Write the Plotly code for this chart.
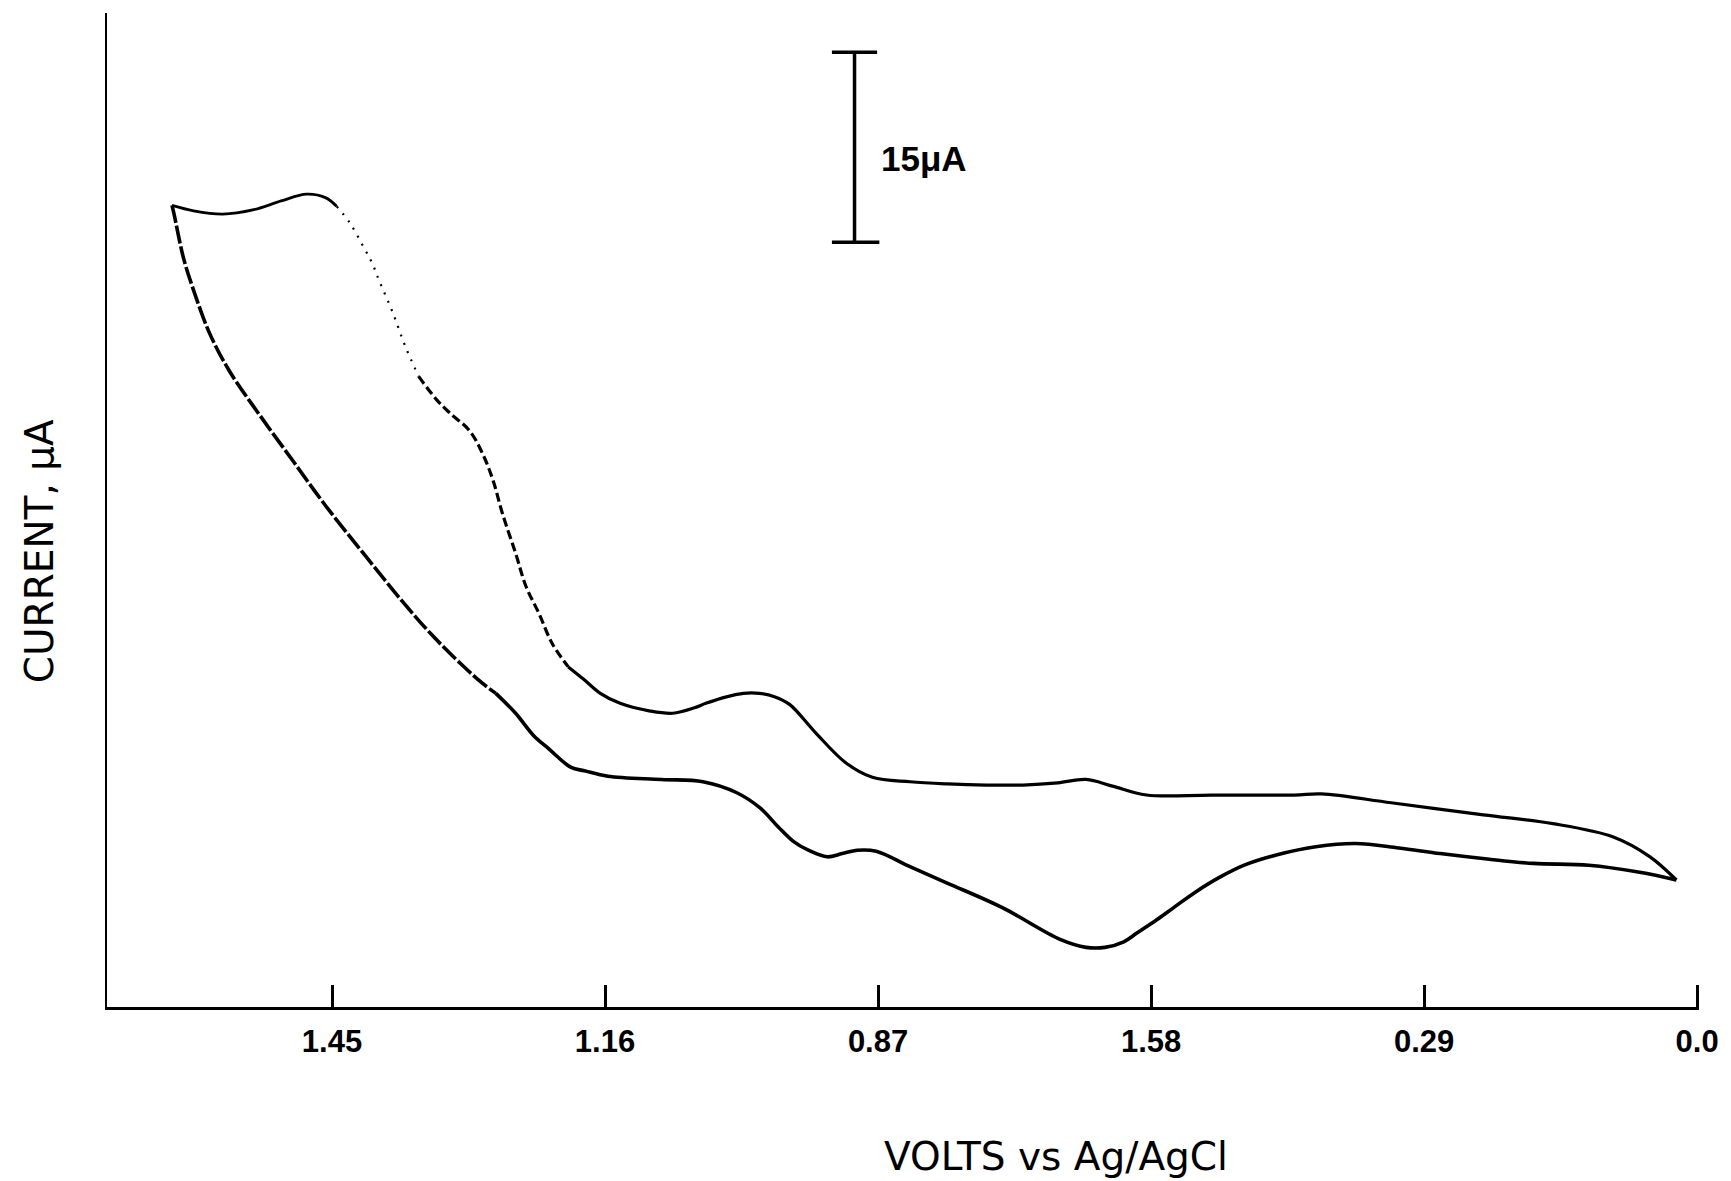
import plotly.graph_objects as go

# Cyclic voltammogram (volts vs Ag/AgCl, current in µA above the x-axis line)
upper_volts = [1.620, 1.597, 1.566, 1.533, 1.504, 1.477, 1.457, 1.445, 1.431, 1.417,
               1.407, 1.400, 1.386, 1.372, 1.358, 1.339, 1.325, 1.304, 1.290, 1.279,
               1.269, 1.255, 1.244, 1.230, 1.216, 1.199, 1.183, 1.165, 1.144, 1.112,
               1.088, 1.065, 1.053, 1.030, 1.013, 0.996, 0.980, 0.964, 0.936, 0.904,
               0.876, 0.836, 0.796, 0.755, 0.716, 0.679, 0.649, 0.621, 0.585, 0.516,
               0.428, 0.399, 0.325, 0.227, 0.153, 0.089, 0.050, 0.022]
upper_current = [63.31, 62.88, 62.62, 62.97, 63.66, 64.19, 63.92, 63.23, 61.92, 60.09,
                 58.69, 57.38, 54.94, 52.15, 49.80, 47.97, 46.92, 45.52, 43.69, 41.60,
                 38.98, 35.84, 33.23, 31.05, 28.69, 26.86, 25.90, 24.77, 23.98, 23.37,
                 23.20, 23.63, 23.98, 24.51, 24.77, 24.77, 24.51, 23.90, 21.63, 19.27,
                 18.14, 17.79, 17.62, 17.53, 17.53, 17.70, 17.97, 17.44, 16.74, 16.74,
                 16.74, 16.83, 16.13, 15.17, 14.48, 13.43, 11.86, 10.03]

lower_volts = [1.620, 1.618, 1.608, 1.597, 1.580, 1.559, 1.526, 1.491, 1.456, 1.414,
               1.375, 1.344, 1.311, 1.290, 1.276, 1.255, 1.236, 1.220, 1.196, 1.182,
               1.157, 1.100, 1.056, 1.020, 0.995, 0.976, 0.960, 0.944, 0.924, 0.908,
               0.892, 0.872, 0.836, 0.796, 0.738, 0.676, 0.649, 0.629, 0.609, 0.595,
               0.574, 0.556, 0.533, 0.506, 0.481, 0.447, 0.405, 0.363, 0.317, 0.273,
               0.223, 0.174, 0.115, 0.061, 0.022]
lower_current = [63.31, 62.70, 59.22, 56.60, 53.20, 50.23, 46.66, 43.08, 39.51, 35.58,
                 32.01, 29.39, 26.95, 25.55, 24.77, 23.20, 21.45, 20.41, 18.92, 18.66,
                 18.23, 17.97, 17.79, 16.92, 15.70, 14.22, 13.08, 12.38, 11.86, 12.12,
                 12.38, 12.30, 11.08, 9.77, 7.85, 5.32, 4.71, 4.71, 5.15, 5.84,
                 6.89, 7.85, 9.07, 10.29, 11.20, 12.00, 12.65, 12.91, 12.56, 12.12,
                 11.69, 11.34, 11.20, 10.64, 10.03]

tick_values = [1.45, 1.16, 0.87, 0.58, 0.29, 0.0]
tick_labels = ["1.45", "1.16", "0.87", "1.58", "0.29", "0.0"]

scale_bar_ua = 15
scale_bar_volts = 0.895
scale_bar_base = 60.4

x_range = [1.689, -0.002]
y_range = [0, 78.5]


def segment(volts, current, v_hi, v_lo):
    pts = [(v, c) for v, c in zip(volts, current) if v_lo <= v <= v_hi]
    return [p[0] for p in pts], [p[1] for p in pts]


# (branch, from-voltage, to-voltage, width, dash) -- the scanned trace is broken in places
styles = [
    ("upper", 1.70, 1.445, 2.8, "solid"),
    ("upper", 1.445, 1.358, 2.2, "2px,7px"),
    ("upper", 1.358, 1.199, 3.2, "9px,4px"),
    ("upper", 1.199, -0.1, 3.2, "solid"),
    ("lower", 1.70, 1.276, 3.6, "18px,3px"),
    ("lower", 1.276, -0.1, 3.6, "solid"),
]

fig = go.Figure()
for branch, v_hi, v_lo, w, dash in styles:
    vv, cc = (upper_volts, upper_current) if branch == "upper" else (lower_volts, lower_current)
    xs, ys = segment(vv, cc, v_hi, v_lo)
    fig.add_trace(go.Scatter(x=xs, y=ys, mode="lines",
                             line=dict(color="black", width=w, dash=dash,
                                       shape="spline", smoothing=1.0),
                             showlegend=False, hoverinfo="skip"))

cap = 0.024
top = scale_bar_base + scale_bar_ua
shapes = [
    dict(type="line", xref="x", yref="y", x0=scale_bar_volts, x1=scale_bar_volts,
         y0=scale_bar_base, y1=top, line=dict(color="black", width=3.5)),
    dict(type="line", xref="x", yref="y", x0=scale_bar_volts + cap, x1=scale_bar_volts - cap,
         y0=top, y1=top, line=dict(color="black", width=3.5)),
    dict(type="line", xref="x", yref="y", x0=scale_bar_volts + cap, x1=scale_bar_volts - cap * 1.1,
         y0=scale_bar_base, y1=scale_bar_base, line=dict(color="black", width=3.5)),
]

annotations = [
    dict(x=scale_bar_volts - 0.026, y=scale_bar_base + scale_bar_ua * 0.44, xref="x", yref="y",
         text="<b>15μA</b>", showarrow=False, xanchor="left", yanchor="middle",
         font=dict(family="Liberation Sans", size=35, color="black")),
    dict(x=39, y=1181 - 551, xref="paper", yref="paper", text="CURRENT, μA", showarrow=False,
         textangle=-90, font=dict(family="DejaVu Sans", size=39, color="black")),
    dict(x=1058, y=1181 - 1156, xref="paper", yref="paper", text="VOLTS vs Ag/AgCl",
         showarrow=False, font=dict(family="DejaVu Sans", size=39, color="black")),
]

# convert pixel annotation positions to paper coordinates
L, R, T, B = 107, 28, 13, 174
pw, ph = 1731 - L - R, 1181 - T - B
for a in annotations[1:]:
    a["x"] = (a["x"] - L) / pw
    a["y"] = (a["y"] - B) / ph
    a["xanchor"] = "center"
    a["yanchor"] = "middle"

fig.update_layout(
    width=1731, height=1181,
    margin=dict(l=L, r=R, t=T, b=B, pad=0),
    paper_bgcolor="white", plot_bgcolor="white",
    shapes=shapes, annotations=annotations,
    xaxis=dict(range=x_range, showgrid=False, zeroline=False,
               showline=True, linecolor="black", linewidth=3,
               tickmode="array", tickvals=tick_values,
               ticktext=["<b>%s</b>" % t for t in tick_labels],
               ticks="inside", ticklen=22, tickwidth=2.5, tickcolor="black",
               ticklabelstandoff=5,
               tickfont=dict(family="Liberation Sans", size=31, color="black")),
    yaxis=dict(range=y_range, showgrid=False, zeroline=False,
               showline=True, linecolor="black", linewidth=2.2,
               showticklabels=False, ticks=""),
)

fig.write_html("out.html")
